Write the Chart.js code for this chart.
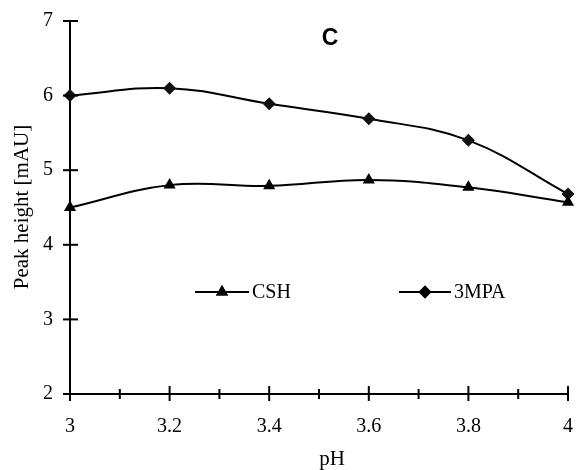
<!DOCTYPE html>
<html>
<head>
<meta charset="utf-8">
<script src="https://cdn.jsdelivr.net/npm/chart.js@4"></script>
<style>
  body { margin: 0; background: #fff; }
  #wrap { width: 578px; height: 470px; }
</style>
</head>
<body>
<div id="wrap"><canvas id="myChart" width="578" height="470"></canvas></div>
<script>
// data
const phValues = [3, 3.2, 3.4, 3.6, 3.8, 4];
const cshValues = [4.5, 4.8, 4.79, 4.87, 4.77, 4.57];
const mpaValues = [6.0, 6.1, 5.89, 5.69, 5.4, 4.68];
const seriesNames = ['CSH', '3MPA'];
const xTickLabels = ['3', '3.2', '3.4', '3.6', '3.8', '4'];
const yTickLabels = ['2', '3', '4', '5', '6', '7'];

const serif = '"Liberation Serif", "DejaVu Serif", serif';

// axes ticks cross the axis lines, plus minor x ticks; also legend + titles
const extrasPlugin = {
  id: 'extras',
  afterDraw(chart) {
    const ctx = chart.ctx;
    const xs = chart.scales.x;
    const ys = chart.scales.y;
    const area = chart.chartArea;
    ctx.save();
    ctx.strokeStyle = '#000';
    ctx.lineWidth = 2;

    // y major ticks
    yTickLabels.forEach(v => {
      const y = ys.getPixelForValue(Number(v));
      ctx.beginPath();
      ctx.moveTo(area.left - 7, y);
      ctx.lineTo(area.left + 8, y);
      ctx.stroke();
    });
    // x major ticks
    xTickLabels.forEach(v => {
      const x = xs.getPixelForValue(Number(v));
      ctx.beginPath();
      ctx.moveTo(x, area.bottom - 8);
      ctx.lineTo(x, area.bottom + 7);
      ctx.stroke();
    });
    // x minor ticks
    for (let i = 0; i < xTickLabels.length - 1; i++) {
      const v = (Number(xTickLabels[i]) + Number(xTickLabels[i + 1])) / 2;
      const x = xs.getPixelForValue(v);
      ctx.beginPath();
      ctx.moveTo(x, area.bottom - 5);
      ctx.lineTo(x, area.bottom + 5);
      ctx.stroke();
    }

    // panel letter
    ctx.fillStyle = '#000';
    ctx.font = 'bold 23px "Liberation Sans", Arial, sans-serif';
    ctx.textAlign = 'center';
    ctx.textBaseline = 'middle';
    ctx.fillText('C', 330, 39);

    // axis titles
    ctx.font = '21px ' + serif;
    ctx.fillText('pH', 332, 459);
    ctx.save();
    ctx.translate(22, 207);
    ctx.rotate(-Math.PI / 2);
    ctx.fillText('Peak height [mAU]', 0, 0);
    ctx.restore();

    // legend inside plot
    const legendY = 292;
    const items = [
      { x0: 195, x1: 249, style: 'triangle', label: seriesNames[0] },
      { x0: 399, x1: 451, style: 'rectRot', label: seriesNames[1] }
    ];
    items.forEach(it => {
      ctx.beginPath();
      ctx.moveTo(it.x0, legendY);
      ctx.lineTo(it.x1, legendY);
      ctx.stroke();
      Chart.helpers.drawPoint(ctx, {
        pointStyle: it.style,
        radius: it.style === 'triangle' ? 7 : 6.5,
        rotation: 0
      }, (it.x0 + it.x1) / 2, legendY);
      ctx.fill();
      ctx.font = '20px ' + serif;
      ctx.textAlign = 'left';
      ctx.fillText(it.label, it.x1 + 3, legendY + 1);
    });
    ctx.restore();
  }
};

const ctx = document.getElementById('myChart').getContext('2d');

const myChart = new Chart(ctx, {
  type: 'line',
  data: {
    labels: phValues,
    datasets: [
      {
        label: seriesNames[0],
        data: phValues.map((x, i) => ({ x: x, y: cshValues[i] })),
        borderColor: '#000',
        backgroundColor: '#000',
        borderWidth: 2,
        pointStyle: 'triangle',
        pointRadius: 7,
        pointBorderWidth: 0,
        tension: 0.4
      },
      {
        label: seriesNames[1],
        data: phValues.map((x, i) => ({ x: x, y: mpaValues[i] })),
        borderColor: '#000',
        backgroundColor: '#111',
        borderWidth: 2,
        pointStyle: 'rectRot',
        pointRadius: 6.5,
        pointBorderWidth: 0,
        tension: 0.4
      }
    ]
  },
  options: {
    responsive: false,
    animation: false,
    clip: false,
    layout: {
      padding: { top: 21, right: 10, left: 0, bottom: 0 }
    },
    scales: {
      x: {
        type: 'linear',
        min: 3,
        max: 4,
        afterFit: (scale) => {
          scale.height = 76;
          scale.paddingLeft = 0;
          scale.paddingRight = 0;
        },
        afterBuildTicks: (scale) => {
          scale.ticks = xTickLabels.map(v => ({ value: Number(v) }));
        },
        ticks: {
          padding: 21,
          color: '#000',
          font: { family: serif, size: 20 },
          callback: (v) => String(v)
        },
        grid: { display: false, drawTicks: false },
        border: { display: true, color: '#000', width: 2 }
      },
      y: {
        min: 2,
        max: 7,
        afterFit: (scale) => {
          scale.width = 70;
          scale.paddingTop = 0;
          scale.paddingBottom = 0;
        },
        afterBuildTicks: (scale) => {
          scale.ticks = yTickLabels.map(v => ({ value: Number(v) }));
        },
        ticks: {
          padding: 17,
          color: '#000',
          font: { family: serif, size: 20 },
          callback: (v) => String(v)
        },
        grid: { display: false, drawTicks: false },
        border: { display: true, color: '#000', width: 2 }
      }
    },
    plugins: {
      legend: { display: false },
      tooltip: { enabled: false }
    }
  },
  plugins: [extrasPlugin]
});
</script>
</body>
</html>
